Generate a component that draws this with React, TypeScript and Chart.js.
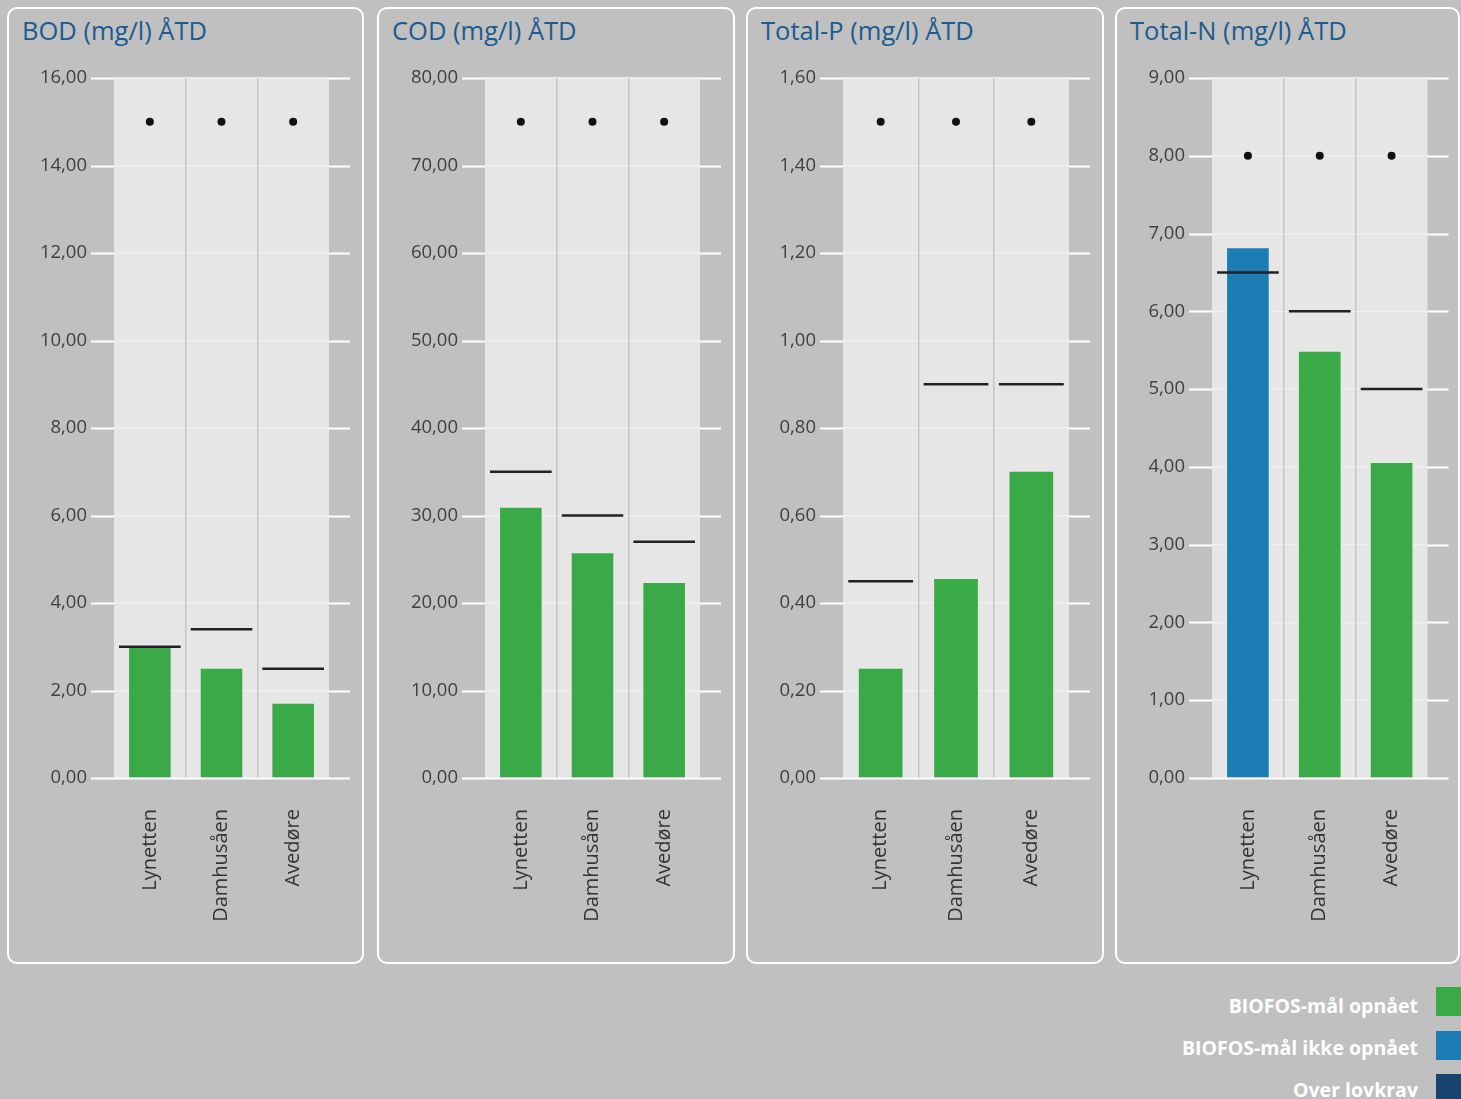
import React, { useEffect, useRef } from 'react';
import { Chart, registerables } from 'chart.js';

Chart.register(...registerables);

// ---------- data ----------
const categories = ['Lynetten', 'Damhusåen', 'Avedøre'];

const panelTitles = ['BOD (mg/l) ÅTD', 'COD (mg/l) ÅTD', 'Total-P (mg/l) ÅTD', 'Total-N (mg/l) ÅTD'];

const bodValues = [3.0, 2.5, 1.7];
const bodTargets = [3.0, 3.4, 2.5];
const bodLimits = [15, 15, 15];
const bodStatus = ['ok', 'ok', 'ok'];

const codValues = [30.9, 25.7, 22.3];
const codTargets = [35, 30, 27];
const codLimits = [75, 75, 75];
const codStatus = ['ok', 'ok', 'ok'];

const totalPValues = [0.25, 0.455, 0.7];
const totalPTargets = [0.45, 0.9, 0.9];
const totalPLimits = [1.5, 1.5, 1.5];
const totalPStatus = ['ok', 'ok', 'ok'];

const totalNValues = [6.81, 5.48, 4.05];
const totalNTargets = [6.5, 6.0, 5.0];
const totalNLimits = [8, 8, 8];
const totalNStatus = ['miss', 'ok', 'ok'];

const yMaxes = [16, 80, 1.6, 9];
const ySteps = [2, 10, 0.2, 1];

const legendLabels = ['BIOFOS-mål opnået', 'BIOFOS-mål ikke opnået', 'Over lovkrav'];
const legendKeys = ['ok', 'miss', 'over'];

// ---------- styles ----------
const COLORS: Record<string, string> = {
  ok: '#3aaa48',
  miss: '#1b7db4',
  over: '#1a4470',
};
const FONT = '"Open Sans", "DejaVu Sans", sans-serif';
const PANEL_LEFT = [7, 377, 746, 1115];
const PANEL_WIDTH = [357, 358, 358, 345];
const PAD_RIGHT = [35, 35, 35, 32];
const Y_AXIS_W = [76, 77, 66, 66];
const CANVAS_H = 980;

const panelData = [
  { values: bodValues, targets: bodTargets, limits: bodLimits, status: bodStatus },
  { values: codValues, targets: codTargets, limits: codLimits, status: codStatus },
  { values: totalPValues, targets: totalPTargets, limits: totalPLimits, status: totalPStatus },
  { values: totalNValues, targets: totalNTargets, limits: totalNLimits, status: totalNStatus },
];

const backdropPlugin = {
  id: 'backdrop',
  beforeDraw(chart: any) {
    const { ctx, chartArea: a, scales } = chart;
    const y = scales.y;
    ctx.save();
    ctx.strokeStyle = '#ffffff';
    ctx.lineWidth = 2;
    y.ticks.forEach((_t: any, i: number) => {
      const py = Math.round(y.getPixelForTick(i)) + 0.5;
      ctx.beginPath();
      ctx.moveTo(a.left - 23, py);
      ctx.lineTo(a.right + 21, py);
      ctx.stroke();
    });
    ctx.fillStyle = '#e6e6e6';
    ctx.fillRect(a.left, a.top, a.right - a.left, a.bottom - a.top);
    ctx.restore();
  },
};

function fmt(v: number) {
  return Number(v).toFixed(2).replace('.', ',');
}

function Panel({ index }: { index: number }) {
  const ref = useRef<HTMLCanvasElement | null>(null);
  const left = PANEL_LEFT[index];
  const width = PANEL_WIDTH[index];
  const d = panelData[index];

  useEffect(() => {
    if (!ref.current) return;
    const nCat = categories.length;
    const chart = new Chart(ref.current, {
      type: 'bar',
      data: {
        labels: categories,
        datasets: [
          {
            type: 'line',
            label: 'Lovkrav',
            data: d.limits,
            showLine: false,
            pointStyle: 'circle',
            pointRadius: 4,
            pointBackgroundColor: '#111111',
            pointBorderColor: '#111111',
            pointBorderWidth: 0,
            order: 0,
          } as any,
          {
            type: 'line',
            label: 'BIOFOS-mål',
            data: d.targets,
            showLine: false,
            pointStyle: 'line',
            pointRadius: (c: any) => {
              const a = c.chart.chartArea;
              return a ? ((a.right - a.left) / nCat) * 0.43 : 30;
            },
            pointBorderColor: '#222222',
            pointBorderWidth: 2.5,
            order: 1,
          } as any,
          {
            type: 'bar',
            label: 'Værdi',
            data: d.values,
            backgroundColor: d.status.map((s) => COLORS[s]),
            borderWidth: 0,
            barPercentage: 0.58,
            categoryPercentage: 1,
            order: 3,
          } as any,
        ],
      },
      options: {
        responsive: false,
        animation: false,
        events: [],
        layout: { padding: { top: 78, left: 31, right: PAD_RIGHT[index], bottom: 42 } },
        plugins: {
          legend: { display: false },
          tooltip: { enabled: false },
          title: { display: false },
        },
        scales: {
          x: {
            type: 'category',
            offset: true,
            border: { display: false },
            grid: {
              display: true,
              drawTicks: false,
              offset: true,
              lineWidth: 1.5,
              color: (c: any) => (c.type === 'tick' && c.index > 0 ? '#c4c4c4' : 'rgba(0,0,0,0)'),
            },
            ticks: {
              autoSkip: false,
              minRotation: 90,
              maxRotation: 90,
              padding: 31,
              color: '#333333',
              font: { family: FONT, size: 20 },
            },
            afterFit: (s: any) => {
              s.height = 160;
              s.paddingLeft = 0;
              s.paddingRight = 0;
            },
          },
          y: {
            type: 'linear',
            min: 0,
            max: yMaxes[index],
            border: { display: false },
            grid: {
              drawTicks: false,
              lineWidth: 1.5,
              color: 'rgba(255,255,255,0.35)',
            },
            ticks: {
              stepSize: ySteps[index],
              padding: 27,
              color: '#404040',
              font: { family: FONT, size: 18.5 },
              callback: (v: any) => fmt(v),
            },
            afterFit: (s: any) => {
              s.width = Y_AXIS_W[index];
            },
          },
        },
      } as any,
      plugins: [backdropPlugin],
    });
    return () => chart.destroy();
  }, []);

  return (
    <>
      <div
        style={{
          position: 'absolute',
          left,
          top: 7,
          width,
          height: 957,
          boxSizing: 'border-box',
          border: '2px solid #ffffff',
          borderRadius: 10,
        }}
      />
      <div
        style={{
          position: 'absolute',
          left: left + 15,
          top: 18,
          fontFamily: FONT,
          fontSize: 25.5,
          lineHeight: '25.5px',
          color: '#1d5b8f',
          whiteSpace: 'nowrap',
        }}
      >
        {panelTitles[index]}
      </div>
      <canvas
        ref={ref}
        width={width}
        height={CANVAS_H}
        style={{ position: 'absolute', left, top: 0, width, height: CANVAS_H }}
      />
    </>
  );
}

export default function App() {
  return (
    <div
      style={{
        position: 'fixed',
        left: 0,
        top: 0,
        width: 1461,
        height: 1099,
        background: '#c0c0c0',
        overflow: 'hidden',
        fontFamily: FONT,
      }}
    >
      {panelTitles.map((_t, i) => (
        <Panel key={i} index={i} />
      ))}
      {legendLabels.map((lab, i) => (
        <React.Fragment key={lab}>
          <div
            style={{
              position: 'absolute',
              right: 43,
              top: 996 + i * 42,
              fontFamily: FONT,
              fontWeight: 700,
              fontSize: 19.5,
              lineHeight: '19.5px',
              color: '#ffffff',
              whiteSpace: 'nowrap',
              textAlign: 'right',
            }}
          >
            {lab}
          </div>
          <div
            style={{
              position: 'absolute',
              left: 1436,
              top: 987 + i * 43.5,
              width: 30,
              height: 29,
              background: COLORS[legendKeys[i]],
            }}
          />
        </React.Fragment>
      ))}
    </div>
  );
}
